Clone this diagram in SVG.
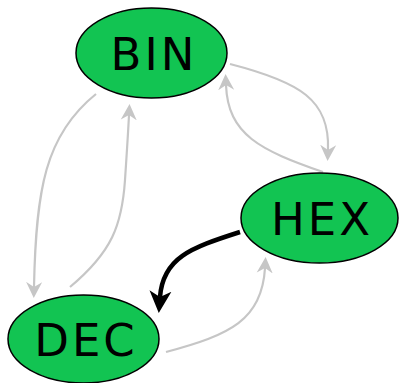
<svg xmlns="http://www.w3.org/2000/svg" width="400" height="383" viewBox="0 0 400 383">
<style>
.node ellipse{fill:#12c452;stroke:#000;stroke-width:1.5}
.node text{font-family:"Comic Sans MS","DejaVu Sans",sans-serif;font-size:45px;letter-spacing:3px;fill:#000;text-anchor:middle}
.edge{fill:none;stroke:#c6c6c6;stroke-width:2.2}
.edge.hl{stroke:#000;stroke-width:4.5}
</style>
<defs>
<marker id="ag" markerUnits="userSpaceOnUse" viewBox="0 0 20 20" markerWidth="20" markerHeight="20" refX="5" refY="10" orient="auto">
<path d="M0,2 L16,10 L0,18 L5,10 Z" fill="#c6c6c6"/>
</marker>
<marker id="ab" markerUnits="userSpaceOnUse" viewBox="0 0 24 24" markerWidth="24" markerHeight="24" refX="6" refY="12" orient="auto">
<path d="M0,1 L22,12 L0,23 L6,12 Z" fill="#000"/>
</marker>
</defs>
<g id="connectors">
<path class="edge" d="M230,64 C300,82 330,100 328,150" marker-end="url(#ag)"/>
<path class="edge" d="M323,172 C260,150 228,135 226,85" marker-end="url(#ag)"/>
<path class="edge" d="M96,94 C45,135 36,190 34,287" marker-end="url(#ag)"/>
<path class="edge" d="M70,287 C112,252 122,225 125,180 C127,150 128,135 129,115" marker-end="url(#ag)"/>
<path class="edge" d="M166,352 C230,335 262,320 265,268" marker-end="url(#ag)"/>
<path class="edge hl" d="M240,232 C190,248 163,258 160,297" marker-end="url(#ab)"/>
</g>
<g id="BIN" class="node"><ellipse cx="151.5" cy="53" rx="75.5" ry="45"/><text x="154" y="70">BIN</text></g>
<g id="HEX" class="node"><ellipse cx="319.5" cy="218" rx="78.5" ry="45"/><text x="322" y="235">HEX</text></g>
<g id="DEC" class="node"><ellipse cx="83.5" cy="339" rx="75.5" ry="44"/><text x="86" y="356">DEC</text></g>
</svg>
